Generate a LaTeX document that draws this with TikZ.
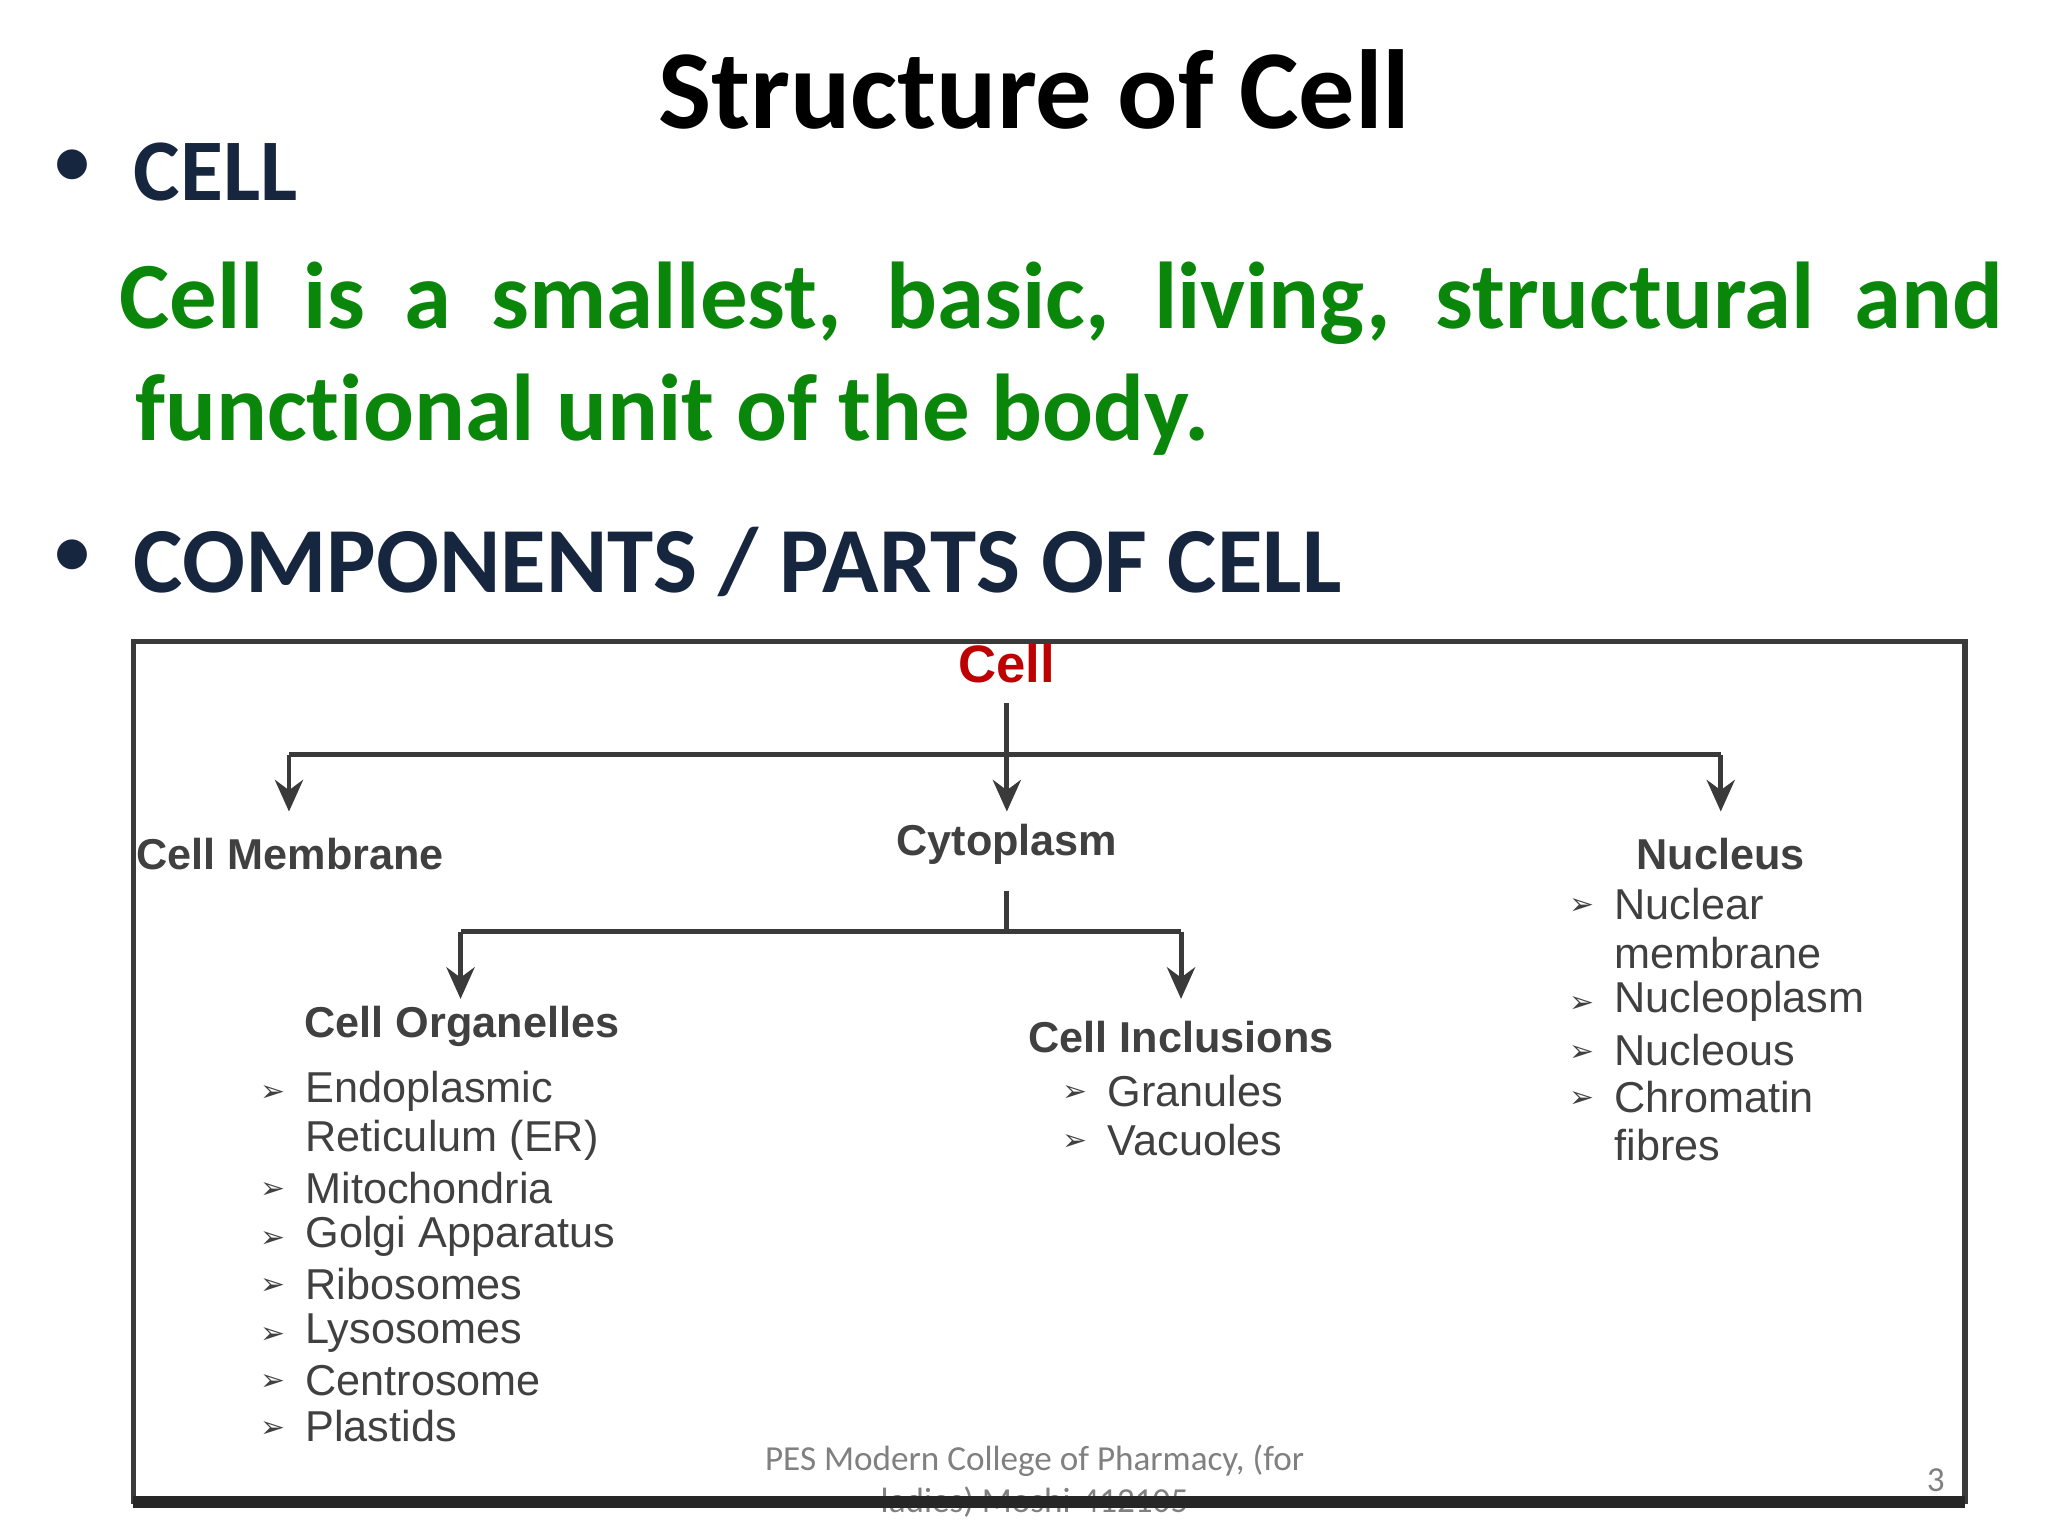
\documentclass[tikz,border=0pt]{standalone}
\usepackage{fontspec}
\setmainfont{Carlito}[Ligatures={NoCommon}]
\newfontfamily\arl{Liberation Sans}
\newfontfamily\djv{DejaVu Sans}
\usetikzlibrary{arrows.meta}
\definecolor{navy}{HTML}{17263F}
\definecolor{grn}{HTML}{0A870A}
\definecolor{ln}{HTML}{3A3A3A}
\definecolor{txt}{HTML}{404040}
\begin{document}
\begin{tikzpicture}[x=0.013196cm,y=-0.013196cm,
  conn/.style={ln,line width=1.4pt},
  arr/.style={conn,-{Stealth[length=9pt,width=8pt]}},
  hd/.style={font=\arl\bfseries\fontsize{12.3}{15}\selectfont,text=txt,inner sep=0},
  it/.style={font=\arl\fontsize{12.3}{15}\selectfont,text=txt,anchor=west,inner sep=0},
  bl/.style={font=\djv\fontsize{8.5}{9}\selectfont,text=txt,inner sep=0}]
\useasboundingbox (0,0) rectangle (1552,1164);
\node (title) at (784,68) {\fontsize{32}{38}\selectfont\bfseries Structure of Cell};
\node[text=navy] (b1) at (55,128) {\fontsize{24}{30}\selectfont •};
\node[anchor=west,text=navy,inner sep=0] (h1) at (101,130) {\fontsize{25}{30}\selectfont\bfseries CELL};
\node[anchor=west,text=grn,inner sep=0] (g1) at (90,230) {\fontsize{27}{32}\selectfont\bfseries\makebox[536pt][s]{Cell is a smallest, basic, living, structural and}};
\node[anchor=west,text=grn,inner sep=0] (g2) at (102,314) {\fontsize{27}{32}\selectfont\bfseries functional unit of the body.};
\node[text=navy] (b2) at (55,424) {\fontsize{24}{30}\selectfont •};
\node[anchor=west,text=navy,inner sep=0] (h2) at (101,426) {\fontsize{26.5}{32}\selectfont\bfseries COMPONENTS / PARTS OF CELL};
% footer
\node[text=gray,font=\fontsize{10}{12}\selectfont] (f1) at (784,1107) {PES Modern College of Pharmacy, (for};
\node[text=gray,font=\fontsize{10}{12}\selectfont] (f2) at (784,1138) {ladies) Moshi-412105};
\node[text=gray,font=\fontsize{10}{12}\selectfont] (pg) at (1467,1122) {3};
% box
\draw[ln,line width=1.5pt] (101,486) rectangle (1489,1138);
\draw[black!85,line width=3.5pt] (101,1138) -- (1489,1138);
% nodes
\node[font=\arl\bfseries\fontsize{15}{18}\selectfont,text=red!75!black,inner sep=0] (cell) at (763,503) {Cell};
\node[hd] (mem) at (220,647) {Cell Membrane};
\node[hd] (cyt) at (763,640) {Cytoplasm};
\node[hd] (nuc) at (1304,647) {Nucleus};
\node[hd] (org) at (350,778) {Cell Organelles};
\node[hd] (inc) at (895,786) {Cell Inclusions};
\coordinate (j1) at (763,572);
\coordinate (j2) at (763,706);
\draw[arr] (763,533) -- (763,615);
\draw[conn] (219,572) -- (1304,572);
\draw[arr] (219,572) -- (219,615);
\draw[arr] (1304,572) -- (1304,615);
\draw[conn] (763,675) -- (j2);
\draw[conn] (349,706) -- (895,706);
\draw[arr] (349,706) -- (349,757);
\draw[arr] (895,706) -- (895,757);
% organelles
\foreach \t/\y/\b in {Endoplasmic/827/1,Reticulum (ER)/864/0,Mitochondria/900/1,Golgi Apparatus/937/1,Ribosomes/973/1,Lysosomes/1010/1,Centrosome/1046/1,Plastids/1081/1}{
  \node[it] at (231,\y) {\t};
  \ifnum\b=1 \node[bl] at (207,\y+2) {➢};\fi}
\foreach \t/\y in {Granules/827,Vacuoles/864}{
  \node[it] at (839,\y) {\t}; \node[bl] at (815,\y+2) {➢};}
\foreach \t/\y/\b in {Nuclear/685/1,membrane/722/0,Nucleoplasm/759/1,Nucleous/796/1,Chromatin/831/1,fibres/868/0}{
  \node[it] at (1223,\y) {\t};
  \ifnum\b=1 \node[bl] at (1199,\y+2) {➢};\fi}
\end{tikzpicture}
\end{document}
